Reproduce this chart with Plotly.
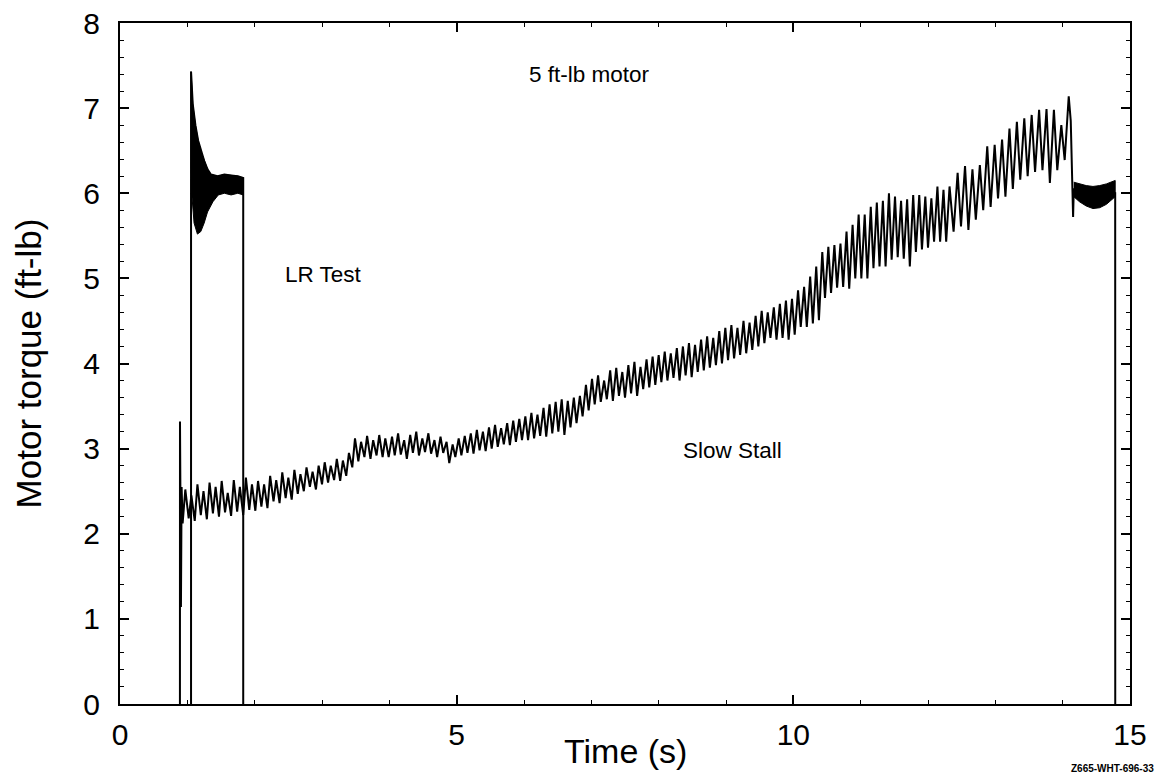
import plotly.graph_objects as go

# ---------------- data ----------------
# Slow Stall trace: start transient
ss_t0 = [0.89, 0.891, 0.897, 0.905, 0.915]
ss_v0 = [0.00, 3.32, 2.50, 1.14, 2.55]

ss_t1 = [0.93, 0.97, 1.02, 1.06, 1.11, 1.15, 1.20, 1.24, 1.29, 1.33, 1.38, 1.42,
         1.47, 1.51, 1.56, 1.60, 1.65, 1.69, 1.74, 1.78, 1.83, 1.87, 1.92, 1.96]
ss_v1 = [2.12, 2.52, 2.18, 2.45, 2.15, 2.58, 2.22, 2.50, 2.17, 2.60, 2.24, 2.55,
         2.20, 2.62, 2.25, 2.48, 2.21, 2.63, 2.26, 2.55, 2.22, 2.66, 2.28, 2.58]

ss_t2 = [2.01, 2.05, 2.10, 2.14, 2.19, 2.23, 2.28, 2.32, 2.37, 2.41, 2.46, 2.50,
         2.55, 2.59, 2.64, 2.68, 2.73, 2.77, 2.82, 2.86, 2.91, 2.95]
ss_v2 = [2.27, 2.62, 2.32, 2.58, 2.30, 2.68, 2.38, 2.63, 2.36, 2.72, 2.42, 2.66,
         2.40, 2.75, 2.47, 2.70, 2.50, 2.78, 2.55, 2.73, 2.52, 2.80]

ss_t3 = [3.00, 3.04, 3.09, 3.13, 3.18, 3.22, 3.27, 3.31, 3.36, 3.40, 3.45, 3.49,
         3.54, 3.58, 3.63, 3.67, 3.72, 3.76, 3.81, 3.85, 3.90, 3.94]
ss_v3 = [2.58, 2.84, 2.60, 2.80, 2.63, 2.88, 2.62, 2.86, 2.68, 2.95, 2.78, 3.12,
         2.85, 3.08, 2.90, 3.15, 2.88, 3.10, 2.92, 3.16, 2.90, 3.12]

ss_t4 = [3.99, 4.04, 4.08, 4.13, 4.17, 4.22, 4.26, 4.31, 4.35, 4.40, 4.44, 4.49,
         4.53, 4.58, 4.62, 4.67, 4.71, 4.76, 4.80, 4.85, 4.89, 4.94, 4.98]
ss_v4 = [2.90, 3.14, 2.92, 3.18, 2.93, 3.10, 2.88, 3.16, 2.95, 3.20, 2.92, 3.12,
         2.96, 3.18, 2.94, 3.10, 2.90, 3.14, 2.95, 3.08, 2.83, 3.05, 2.90]

ss_t5 = [5.03, 5.07, 5.12, 5.16, 5.21, 5.25, 5.30, 5.34, 5.39, 5.43, 5.48, 5.52,
         5.57, 5.61, 5.66, 5.70, 5.75, 5.79, 5.84, 5.88, 5.93, 5.97]
ss_v5 = [3.12, 2.92, 3.15, 2.95, 3.18, 2.94, 3.22, 2.98, 3.20, 2.97, 3.25, 3.00,
         3.28, 3.02, 3.24, 3.05, 3.30, 3.04, 3.33, 3.08, 3.35, 3.10]

ss_t6 = [6.02, 6.06, 6.11, 6.15, 6.20, 6.24, 6.29, 6.33, 6.38, 6.42, 6.47, 6.51,
         6.56, 6.60, 6.65, 6.69, 6.74, 6.78, 6.83, 6.87, 6.92, 6.96]
ss_v6 = [3.38, 3.10, 3.42, 3.12, 3.40, 3.15, 3.48, 3.14, 3.52, 3.18, 3.55, 3.20,
         3.58, 3.16, 3.56, 3.25, 3.60, 3.30, 3.62, 3.38, 3.75, 3.45]

ss_t7 = [7.01, 7.05, 7.10, 7.14, 7.19, 7.23, 7.28, 7.32, 7.37, 7.41, 7.46, 7.50,
         7.55, 7.59, 7.64, 7.68, 7.73, 7.77, 7.82, 7.86, 7.91, 7.95]
ss_v7 = [3.82, 3.52, 3.86, 3.55, 3.80, 3.58, 3.92, 3.56, 3.95, 3.62, 3.90, 3.60,
         3.98, 3.65, 4.02, 3.62, 3.96, 3.70, 4.05, 3.72, 4.08, 3.75]

ss_t8 = [8.00, 8.04, 8.09, 8.13, 8.18, 8.22, 8.27, 8.31, 8.36, 8.40, 8.45, 8.49,
         8.54, 8.58, 8.63, 8.67, 8.72, 8.76, 8.81, 8.85, 8.90, 8.94, 8.99]
ss_v8 = [4.10, 3.78, 4.14, 3.80, 4.12, 3.83, 4.18, 3.80, 4.20, 3.86, 4.24, 3.84,
         4.22, 3.90, 4.28, 3.92, 4.32, 3.95, 4.30, 3.98, 4.38, 4.00, 4.42]

ss_t9 = [9.03, 9.08, 9.12, 9.17, 9.21, 9.26, 9.30, 9.35, 9.39, 9.44, 9.48, 9.53,
         9.57, 9.62, 9.66, 9.71, 9.75, 9.80, 9.84, 9.89, 9.93, 9.98]
ss_v9 = [4.04, 4.45, 4.06, 4.42, 4.10, 4.50, 4.12, 4.48, 4.16, 4.56, 4.20, 4.62,
         4.24, 4.60, 4.30, 4.66, 4.28, 4.70, 4.30, 4.74, 4.28, 4.76]

ss_t10 = [10.02, 10.07, 10.11, 10.16, 10.20, 10.25, 10.29, 10.34, 10.38, 10.43, 10.47,
          10.52, 10.56, 10.61, 10.65, 10.70, 10.74, 10.79, 10.83, 10.88, 10.92, 10.97]
ss_v10 = [4.34, 4.86, 4.43, 4.90, 4.43, 5.02, 4.47, 5.14, 4.51, 5.31, 4.77,
          5.37, 4.83, 5.39, 4.89, 5.41, 4.90, 5.55, 4.88, 5.63, 5.00, 5.75]

ss_t11 = [11.01, 11.06, 11.10, 11.15, 11.19, 11.24, 11.28, 11.33, 11.37, 11.42, 11.46,
          11.51, 11.55, 11.60, 11.64, 11.69, 11.73, 11.78, 11.82, 11.87, 11.91, 11.96]
ss_v11 = [5.00, 5.75, 5.00, 5.84, 5.12, 5.89, 5.14, 5.91, 5.14, 6.00, 5.22,
          5.96, 5.25, 5.91, 5.23, 5.93, 5.14, 5.98, 5.31, 5.98, 5.34, 5.96]

ss_t12 = [12.00, 12.05, 12.09, 12.14, 12.18, 12.23, 12.27, 12.32]
ss_v12 = [5.36, 5.94, 5.43, 6.08, 5.43, 6.04, 5.43, 6.08]

ss_t13 = [12.38, 12.44, 12.49, 12.55, 12.60, 12.66, 12.71, 12.77, 12.82, 12.88, 12.93,
          12.99, 13.04, 13.10, 13.15, 13.21, 13.26, 13.32, 13.37, 13.43, 13.48, 13.54,
          13.59, 13.65, 13.70, 13.76, 13.81, 13.87, 13.92, 13.98, 14.03]
ss_v13 = [5.55, 6.24, 5.61, 6.32, 5.57, 6.28, 5.69, 6.33, 5.80, 6.55, 5.84,
          6.57, 5.94, 6.63, 5.96, 6.76, 6.05, 6.84, 6.16, 6.88, 6.20, 6.92,
          6.25, 6.98, 6.27, 6.99, 6.12, 6.98, 6.27, 6.80, 6.39]

ss_t14 = [14.06, 14.09, 14.12, 14.14, 14.155, 14.165, 14.78, 14.781]
ss_v14 = [6.71, 7.14, 6.85, 6.20, 5.72, 6.05, 6.00, 0.00]

# Slow Stall, final stalled band (upper / lower envelope)
st_band_t = [14.165, 14.25, 14.35, 14.45, 14.55, 14.65, 14.75, 14.78]
st_band_hi = [6.13, 6.11, 6.09, 6.08, 6.09, 6.11, 6.14, 6.15]
st_band_lo = [5.96, 5.90, 5.85, 5.82, 5.83, 5.87, 5.94, 5.96]

# LR Test trace envelopes
lr_hi_t = [1.055, 1.08, 1.12, 1.16, 1.20, 1.25, 1.30, 1.35, 1.45, 1.55, 1.65, 1.75, 1.83]
lr_hi_v = [7.43, 7.05, 6.80, 6.62, 6.50, 6.38, 6.28, 6.22, 6.20, 6.22, 6.21, 6.20, 6.18]
lr_lo_t = [1.055, 1.07, 1.10, 1.15, 1.20, 1.25, 1.30, 1.38, 1.46, 1.55, 1.65, 1.75, 1.83]
lr_lo_v = [6.00, 5.95, 5.65, 5.52, 5.55, 5.65, 5.78, 5.90, 5.98, 6.00, 5.98, 6.00, 5.98]

x_ticks = [0, 5, 10, 15]
y_ticks = [0, 1, 2, 3, 4, 5, 6, 7, 8]

# ---------------- figure ----------------
ss_t = (ss_t0 + ss_t1 + ss_t2 + ss_t3 + ss_t4 + ss_t5 + ss_t6 + ss_t7 + ss_t8
        + ss_t9 + ss_t10 + ss_t11 + ss_t12 + ss_t13 + ss_t14)
ss_v = (ss_v0 + ss_v1 + ss_v2 + ss_v3 + ss_v4 + ss_v5 + ss_v6 + ss_v7 + ss_v8
        + ss_v9 + ss_v10 + ss_v11 + ss_v12 + ss_v13 + ss_v14)

FONT = "Liberation Sans, Arial, Helvetica, sans-serif"
fig = go.Figure()

# LR test: filled oscillation band
fig.add_trace(go.Scatter(
    x=lr_hi_t + lr_lo_t[::-1], y=lr_hi_v + lr_lo_v[::-1],
    mode="lines", fill="toself", fillcolor="black",
    line=dict(color="black", width=1), hoverinfo="skip", showlegend=False))
# LR test: rise and drop
fig.add_trace(go.Scatter(
    x=[lr_hi_t[0]] + lr_hi_t + [lr_hi_t[-1]], y=[0] + lr_hi_v + [0],
    mode="lines", line=dict(color="black", width=2), showlegend=False))
# Slow stall trace
fig.add_trace(go.Scatter(
    x=ss_t, y=ss_v, mode="lines",
    line=dict(color="black", width=2), showlegend=False))
# Slow stall: stalled band
fig.add_trace(go.Scatter(
    x=st_band_t + st_band_t[::-1], y=st_band_hi + st_band_lo[::-1],
    mode="lines", fill="toself", fillcolor="black",
    line=dict(color="black", width=1), hoverinfo="skip", showlegend=False))

axis_common = dict(
    showgrid=False, zeroline=False, showline=True, linecolor="black", linewidth=2,
    mirror="ticks", ticks="inside", ticklen=9, tickwidth=1.5, tickcolor="black",
    tickfont=dict(family=FONT, size=30, color="black"), automargin=False,
    ticklabeloverflow="allow",
)

fig.update_xaxes(
    range=[0, 15], tickvals=x_ticks, ticktext=[str(v) for v in x_ticks],
    minor=dict(dtick=1, ticks="inside", ticklen=4, tickwidth=1.2, tickcolor="black"),
    ticklabelstandoff=3,
    **axis_common)
fig.update_yaxes(
    range=[0, 8], tickvals=y_ticks, ticktext=[str(v) for v in y_ticks],
    minor=dict(dtick=0.2, ticks="inside", ticklen=4, tickwidth=1.2, tickcolor="black"),
    title=dict(text="Motor torque (ft-lb)", font=dict(family=FONT, size=35, color="black"), standoff=31),
    ticklabelstandoff=12,
    **axis_common)

# x-axis title placed as a paper annotation, kept just inside the bottom edge
fig.add_annotation(x=0.5, y=-0.069, xref="paper", yref="paper", xanchor="center",
                   yanchor="middle", text="Time (s)", showarrow=False,
                   font=dict(family=FONT, size=34, color="black"))

ann_font = dict(family=FONT, size=22.5, color="black")
fig.add_annotation(x=6.98, y=7.4, text="5 ft-lb motor", showarrow=False, font=ann_font)
fig.add_annotation(x=3.02, y=5.05, text="LR Test", showarrow=False, font=ann_font)
fig.add_annotation(x=9.1, y=2.98, text="Slow Stall", showarrow=False, font=ann_font)
fig.add_annotation(x=1.0257, y=-0.094, xref="paper", yref="paper", xanchor="right",
                   yanchor="middle", text="<b>Z665-WHT-696-33</b>", showarrow=False,
                   font=dict(family=FONT, size=10, color="black"))

# the page body has an 8px margin, so the figure is sized to fit inside the window
fig.update_layout(
    width=1150, height=765, autosize=False,
    margin=dict(l=112, r=28, t=15, b=69),
    paper_bgcolor="white", plot_bgcolor="white",
    showlegend=False,
)

fig.write_html("out.html")
